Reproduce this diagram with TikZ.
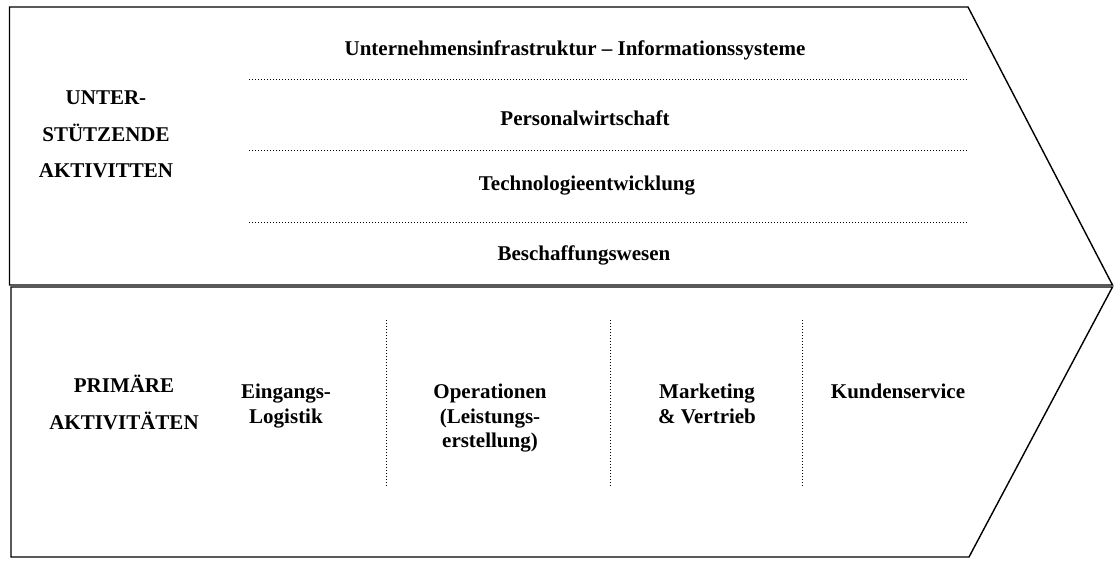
\documentclass[tikz,border=0pt]{standalone}
\usepackage{fontspec}
\setmainfont{Liberation Serif}
\begin{document}
\begin{tikzpicture}[x=1pt,y=-1pt,
  outline/.style={draw=black,line width=1.4pt,line join=miter},
  sep/.style={draw=black,line width=0.9pt,dash pattern=on 0.9pt off 2.1pt},
  lbl/.style={inner sep=0pt,anchor=base,font=\fontsize{21}{24}\selectfont\bfseries}]
\useasboundingbox (0,0) rectangle (1114,561);
% shapes
\draw[outline] (9.5,7) -- (968,7) -- (1112.5,285) -- (9.5,285) -- cycle;
\draw[outline] (11,287) -- (1112.5,287) -- (969,557) -- (11,557) -- cycle;
% support separators
\coordinate (h1a) at (249,79);  \coordinate (h1b) at (967,79);
\coordinate (h2a) at (249,150); \coordinate (h2b) at (967,150);
\coordinate (h3a) at (249,222); \coordinate (h3b) at (967,222);
\draw[sep] (h1a) -- (h1b);
\draw[sep] (h2a) -- (h2b);
\draw[sep] (h3a) -- (h3b);
% primary separators
\coordinate (v1a) at (386,320); \coordinate (v1b) at (386,486);
\coordinate (v2a) at (610,320); \coordinate (v2b) at (610,486);
\coordinate (v3a) at (802,320); \coordinate (v3b) at (802,486);
\draw[sep] (v1a) -- (v1b);
\draw[sep] (v2a) -- (v2b);
\draw[sep] (v3a) -- (v3b);
% support labels
\node[lbl] (uia) at (575,56) {Unternehmensinfrastruktur – Informationssysteme};
\node[lbl] (pw) at (585,126) {Personalwirtschaft};
\node[lbl] (te) at (587,191) {Technologieentwicklung};
\node[lbl] (bw) at (584,261) {Beschaffungswesen};
\node[lbl] (u1) at (106,104.5) {UNTER-};
\node[lbl] (u2) at (106,141.5) {STÜTZENDE};
\node[lbl] (u3) at (106,178) {AKTIVITTEN};
% primary labels
\node[lbl] (p1) at (124,392) {PRIMÄRE};
\node[lbl] (p2) at (124,429) {AKTIVITÄTEN};
\node[lbl] (e1) at (286,399) {Eingangs-};
\node[lbl] (e2) at (286,423) {Logistik};
\node[lbl] (o1) at (490,399) {Operationen};
\node[lbl] (o2) at (490,423) {(Leistungs-};
\node[lbl] (o3) at (490,447) {erstellung)};
\node[lbl] (m1) at (707,399) {Marketing};
\node[lbl] (m2) at (707,423) {\& Vertrieb};
\node[lbl] (k1) at (898,399) {Kundenservice};
\end{tikzpicture}
\end{document}
